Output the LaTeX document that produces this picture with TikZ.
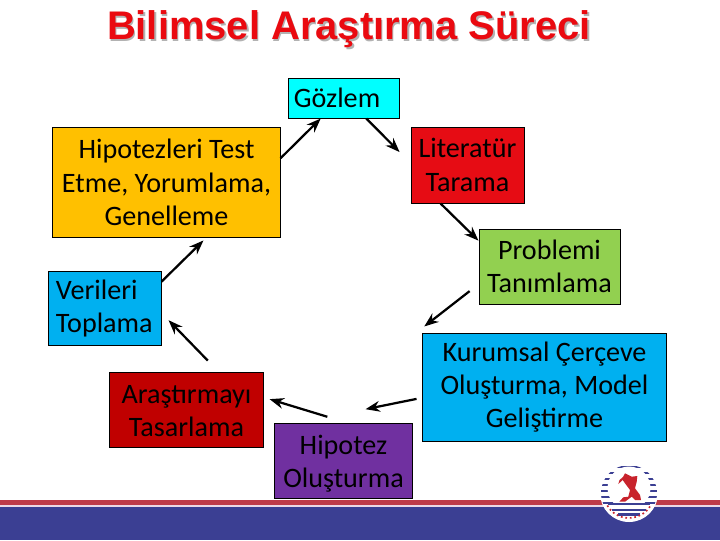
\documentclass[tikz,border=0pt]{standalone}
\usepackage{fontspec}
\setmainfont{Carlito}
\newfontfamily\titlefont{Liberation Sans}
\usepackage{tikz}
\usetikzlibrary{arrows.meta, positioning, calc}
\definecolor{bandred}{HTML}{BE3B49}
\definecolor{bandblue}{HTML}{3B3F93}
\definecolor{bandpale}{HTML}{EBD9E6}
\definecolor{titlered}{HTML}{EA0A10}
\definecolor{boxcyan}{HTML}{00FFFF}
\definecolor{boxorange}{HTML}{FFC000}
\definecolor{boxred}{HTML}{E60C14}
\definecolor{boxgreen}{HTML}{92D050}
\definecolor{boxblue}{HTML}{00B0F0}
\definecolor{boxdark}{HTML}{C00000}
\definecolor{boxviolet}{HTML}{7030A0}
\definecolor{logored}{HTML}{C8232C}

\begin{document}
\begin{tikzpicture}[x=0.025cm, y=-0.025cm, >={Stealth[scale=1.0]},
  stage/.style={draw=black, line width=0.7pt, inner sep=0pt, align=center, text=black, font=\fontsize{20}{23.7}\selectfont},
  headline/.style={font=\titlefont\bfseries\fontsize{28.4}{32}\selectfont},
  flow/.style={->, line width=1.6pt, black},
  ringbar/.style={bandblue, line width=1.7pt}]
\useasboundingbox (0,0) rectangle (720,540);
\fill[white] (0,0) rectangle (720,540);
% bottom band
\fill[bandred] (0,500) rectangle (720,505);
\fill[bandpale] (0,505) rectangle (720,507);
\fill[bandblue] (0,507) rectangle (720,540);
% title with its shadow
\node[headline, text=black!30] (titleback) at (350.5,31){Bilimsel Araştırma Süreci};
\node[headline, text=titlered] (title) at (349,29.5){Bilimsel Araştırma Süreci};
% the stages of the cycle
\node[stage, fill=boxcyan, minimum width=2.775cm, minimum height=1cm, text width=2.475cm, align=left] (gozlem) at (343.5,98){Gözlem};
\node[stage, fill=boxorange, minimum width=5.675cm, minimum height=2.725cm] (hipotest) at (166.5,182.5){Hipotezleri Test\\Etme, Yorumlama,\\Genelleme};
\node[stage, fill=boxred, minimum width=2.825cm, minimum height=1.9cm] (literatur) at (467.5,165){Literatür\\Tarama};
\node[stage, fill=boxgreen, minimum width=3.525cm, minimum height=1.875cm] (problemi) at (549.5,266.5){Problemi\\Tanımlama};
\node[stage, fill=boxblue, minimum width=6.075cm, minimum height=2.7cm] (kurumsal) at (544.5,387){Kurumsal Çerçeve\\Oluşturma, Model\\Geliştirme};
\node[stage, fill=boxblue, minimum width=2.8cm, minimum height=1.85cm, text width=2.45cm, align=left] (verileri) at (105,308){\rule{0pt}{15pt}Verileri\\Toplama};
\node[stage, fill=boxdark, minimum width=3.825cm, minimum height=1.875cm] (arastirma) at (186.5,409.5){\rule{0pt}{15pt}Araştırmayı\\Tasarlama};
\node[stage, fill=boxviolet, minimum width=3.425cm, minimum height=1.875cm] (hipotez) at (343.5,460.5){\rule{0pt}{18.5pt}Hipotez\\Oluşturma};
% arrows around the cycle
\draw[flow, shorten >=11pt] (gozlem.318) -- (literatur.178);
\draw[flow] (literatur.235) -- (problemi.160);
\draw[flow, shorten <=8pt, shorten >=7pt] (problemi.194) -- ($(kurumsal.north west)+(-6,0)$);
\draw[flow, shorten <=4.3pt, shorten >=47.7pt] (kurumsal.185.5) -- (hipotez.139);
\draw[flow, shorten <=14pt, shorten >=4.5pt] (hipotez.86) -- (arastirma.9.3);
\draw[flow, shorten <=10.8pt, shorten >=7.2pt] (arastirma.50.4) -- (verileri.355.3);
\draw[flow, shorten >=3pt] (verileri.25.7) -- (hipotest.306.6);
\draw[flow] (hipotest.12) -- (gozlem.222);
% logo
\fill[white] (629,493) circle (29);
\begin{scope}
\clip (629,493) circle (28);
\foreach \ypos in {467,473,479,485,491,497,503}
  \draw[ringbar] (590,\ypos) -- (670,\ypos);
\end{scope}
\fill[white] (629,488) circle (21.5);
\foreach \ypos/\half in {504/21,510/17,514.5/11}
  \draw[ringbar] (629-\half,\ypos) -- (629+\half,\ypos);
\fill[logored] (625,473.3) -- (631.7,476.7) -- (637.3,476) -- (636.7,481.7) -- (635,488.3) -- (640,495) -- (641,500) -- (635,500) -- (631.7,496.7) -- (625,501.7) -- (619.3,501.7) -- (623.3,497.3) -- (628.3,496.7) -- (630,490) -- (625,483.3) -- (622.7,480) -- (618.3,484) -- (619.5,480) -- (623,477) -- cycle;
\draw[logored, line width=1.2pt, dotted] (607.3,505.5) arc[start angle=150, end angle=30, radius=25];
\end{tikzpicture}
\end{document}
